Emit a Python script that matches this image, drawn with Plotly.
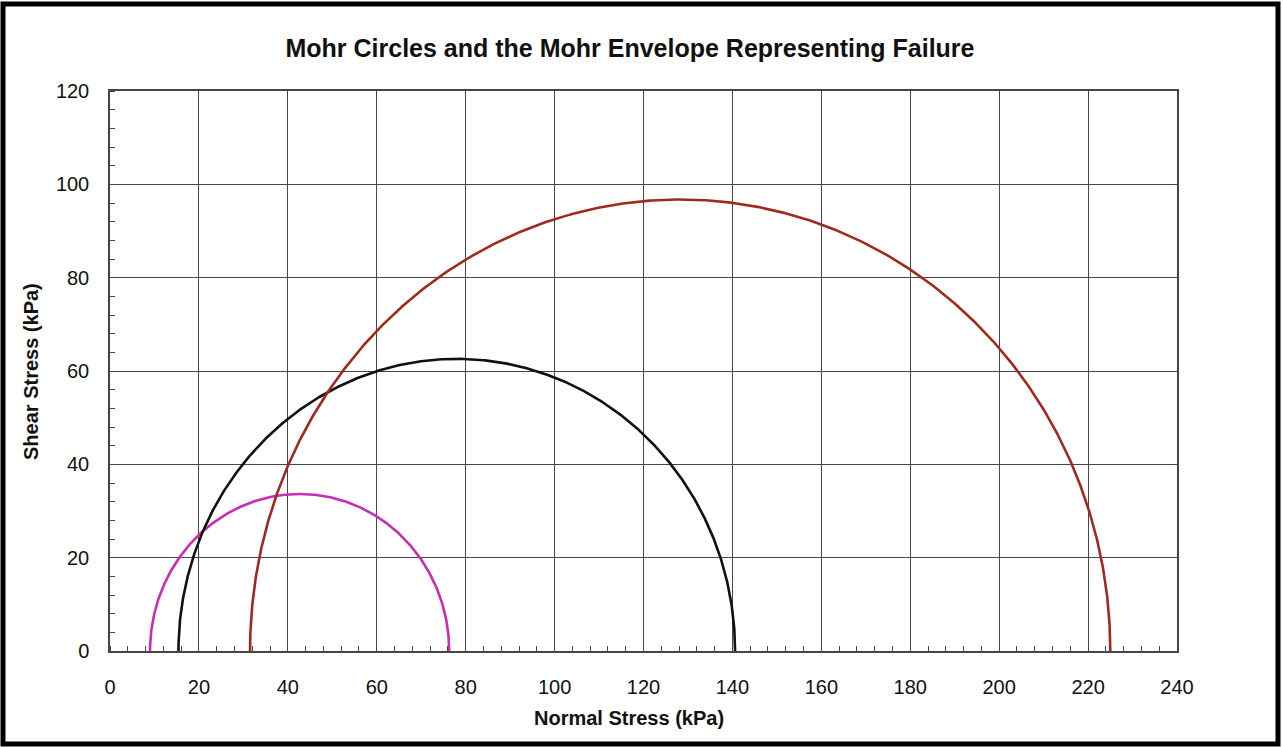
import numpy as np
import plotly.graph_objects as go

# Principal stresses (kPa) for each test: minor (sigma3) and major (sigma1)
test_names = ["Test 1", "Test 2", "Test 3"]
sigma3 = [9.0, 15.4, 31.5]
sigma1 = [76.3, 140.6, 225.0]
circle_colors = ["#c42fb4", "#111111", "#9e2a20"]

x_ticks = list(range(0, 241, 20))
y_ticks = list(range(0, 121, 20))

W, H = 1283, 747
ML, MR, MT, MB = 110, 106, 91, 96

fig = go.Figure()

theta = np.linspace(0, np.pi, 600)
for name, s3, s1, col in zip(test_names, sigma3, sigma1, circle_colors):
    c = (s1 + s3) / 2.0
    r = (s1 - s3) / 2.0
    fig.add_trace(go.Scatter(
        x=c + r * np.cos(theta), y=r * np.sin(theta),
        mode="lines", name=name,
        line=dict(color=col, width=2.6),
        hoverinfo="skip", showlegend=False,
    ))

FONT = "Liberation Sans, Arial, sans-serif"
tick_font = dict(family=FONT, size=20, color="#111111")
grid_col = "#4a4545"

fig.update_xaxes(
    range=[0, 240], tickvals=x_ticks, ticktext=[str(v) for v in x_ticks],
    showgrid=True, gridcolor=grid_col, gridwidth=1,
    showline=True, linecolor=grid_col, linewidth=1.5, mirror=True,
    ticks="", zeroline=False, tickfont=tick_font, ticklabelstandoff=17,
    minor=dict(dtick=4, tick0=0, ticks="inside", ticklen=5, tickcolor=grid_col, showgrid=False),
)
fig.update_yaxes(
    range=[0, 120], tickvals=y_ticks, ticktext=[str(v) for v in y_ticks],
    showgrid=True, gridcolor=grid_col, gridwidth=1,
    showline=True, linecolor=grid_col, linewidth=1.5, mirror=True,
    ticks="", zeroline=False, tickfont=tick_font, ticklabelstandoff=15,
    minor=dict(dtick=4, tick0=0, ticks="inside", ticklen=5, tickcolor=grid_col, showgrid=False),
)

pw, ph = W - ML - MR, H - MT - MB
def px_x(p):
    return (p - ML) / pw
def px_y(p):
    return (H - MB - p) / ph

# Axis titles
title_font = dict(family=FONT, size=20, color="#111111")
fig.add_annotation(text="<b>Normal Stress (kPa)</b>", xref="paper", yref="paper",
                   x=px_x(629), y=px_y(718), xanchor="center", yanchor="middle",
                   showarrow=False, font=title_font)
fig.add_annotation(text="<b>Shear Stress (kPa)</b>", xref="paper", yref="paper",
                   x=px_x(31), y=px_y(372), xanchor="center", yanchor="middle",
                   textangle=-90, showarrow=False, font=title_font)

# Outer frame around the whole chart
fig.add_shape(type="rect", xref="paper", yref="paper",
              x0=px_x(3), x1=px_x(1278), y0=px_y(744), y1=px_y(4),
              line=dict(color="#000000", width=5), layer="above")

fig.update_layout(
    width=W, height=H,
    margin=dict(l=ML, r=MR, t=MT, b=MB),
    paper_bgcolor="white", plot_bgcolor="white",
    title=dict(text="<b>Mohr Circles and the Mohr Envelope Representing Failure</b>",
               x=630 / W, xanchor="center", y=1 - 48 / H, yanchor="middle",
               font=dict(family=FONT, size=25, color="#111111")),
)

fig.write_html("out.html")
